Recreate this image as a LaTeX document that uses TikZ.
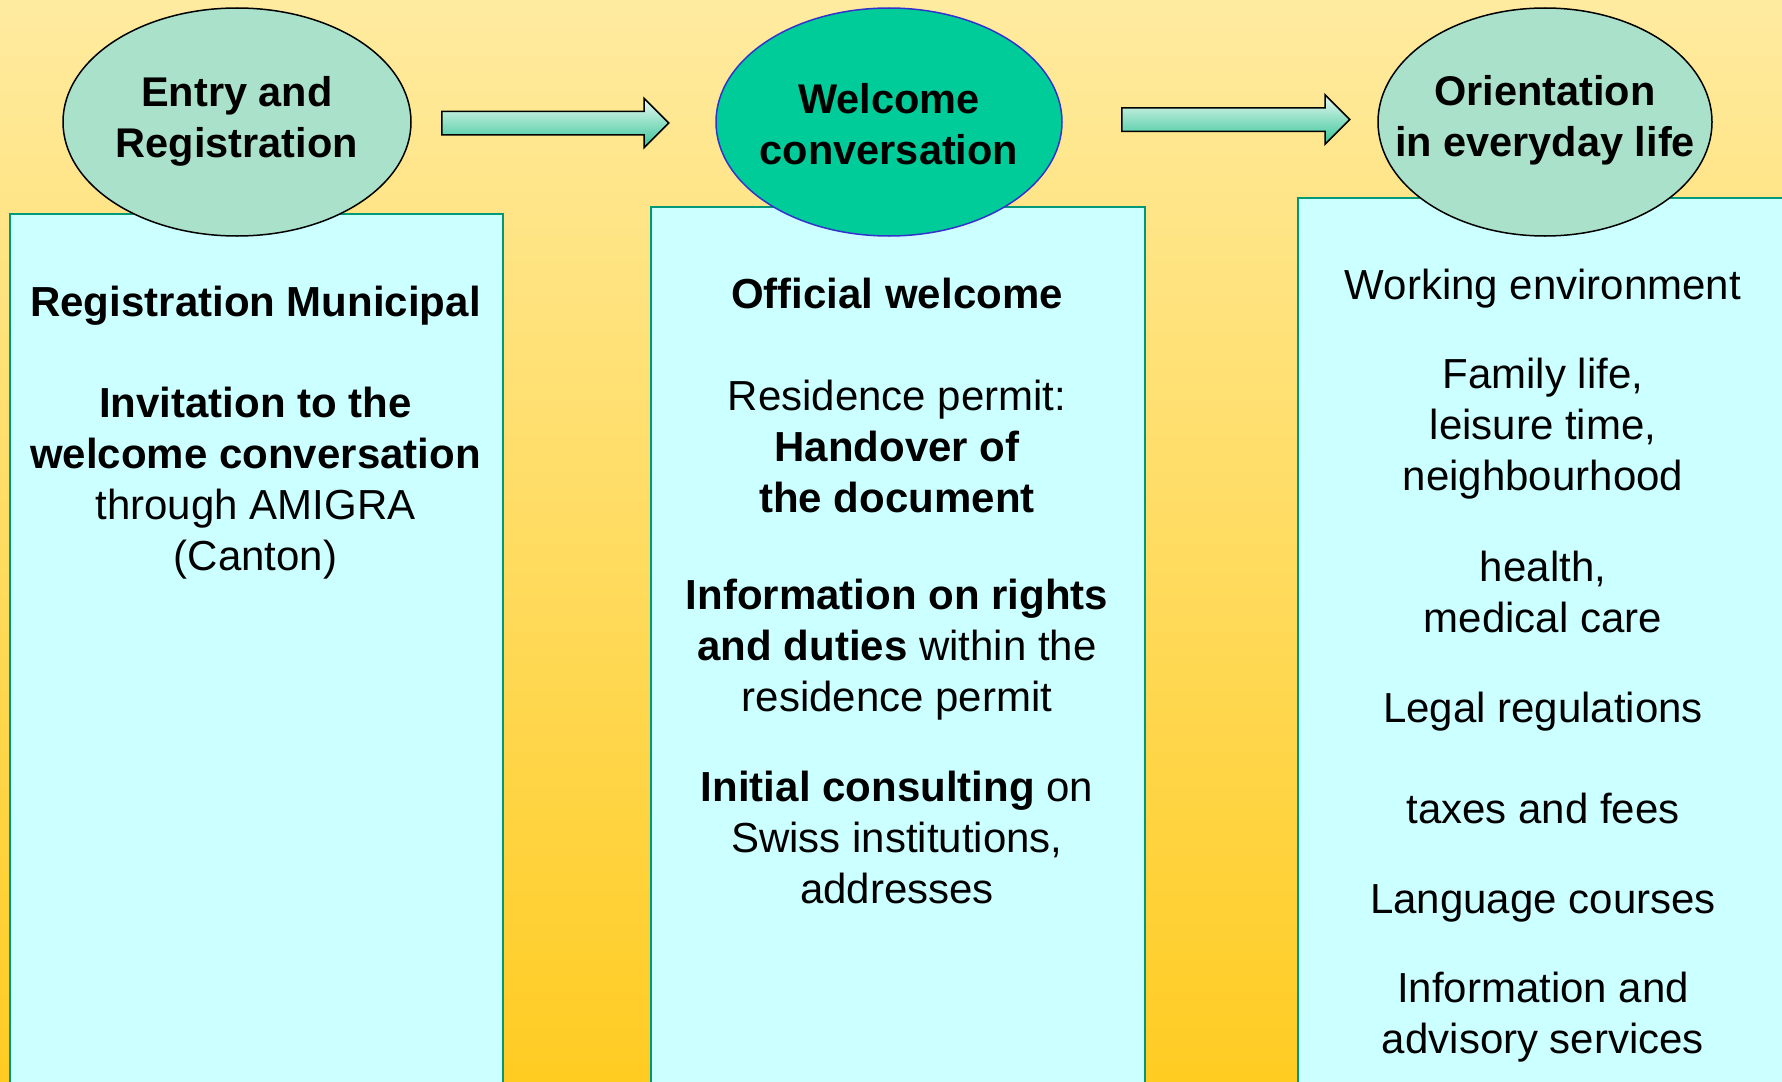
\documentclass[tikz,border=0pt]{standalone}
\usepackage{fontspec}
\setmainfont{Liberation Sans}
\usetikzlibrary{shapes.geometric, shapes.arrows}
\definecolor{sandtop}{RGB}{255,235,160}
\definecolor{sandbot}{RGB}{255,204,34}
\definecolor{panelfill}{RGB}{204,255,255}
\definecolor{paneledge}{RGB}{0,153,119}
\definecolor{mintfill}{RGB}{170,225,202}
\definecolor{jadefill}{RGB}{0,204,153}
\definecolor{jadeedge}{RGB}{51,51,204}
\definecolor{arrowtop}{RGB}{236,250,244}
\definecolor{arrowbot}{RGB}{51,196,150}

\begin{document}
\begin{tikzpicture}[x=1pt, y=1pt,
    panel/.style={draw=paneledge, fill=panelfill, line width=1.5pt, anchor=north west, minimum height=950pt},
    bubble/.style={ellipse, draw=black, fill=mintfill, line width=1.5pt, minimum height=228pt, inner sep=0pt},
    flow/.style={single arrow, draw=black, line width=1.5pt, top color=arrowtop, bottom color=arrowbot, inner xsep=0pt, inner ysep=11pt, single arrow head extend=13pt, anchor=tail},
    txt/.style={anchor=base, align=center, inner sep=0pt, font=\fontsize{42}{51}\selectfont},
    heavy/.style={txt, font=\fontsize{41.5}{51}\selectfont\bfseries}]
      \useasboundingbox (0,0) rectangle (1782,-1081);
      \clip (0,0) rectangle (1782,-1081);
      \fill[top color=sandtop, bottom color=sandbot] (0,0) rectangle (1782,-1081);

      \node[panel, minimum width=493pt] (regpanel) at (9,-213) {};
      \node[panel, minimum width=494pt] (welpanel) at (650,-206) {};
      \node[panel, minimum width=600pt] (oripanel) at (1297,-197) {};

      \node[bubble, minimum width=348pt] (entry) at (237,-122) {};
      \node[bubble, fill=jadefill, draw=jadeedge, minimum width=346pt] (welcome) at (889,-122) {};
      \node[bubble, minimum width=334pt] (orient) at (1545,-122) {};

      \node[flow, minimum height=227pt] (step1) at (441,-123) {};
      \node[flow, minimum height=228pt] (step2) at (1121,-119.5) {};

      \node[heavy] (entrytxt) at (237,-157) {Entry and\\Registration};
      \node[heavy] (welcometxt) at (889,-164) {Welcome\\conversation};
      \node[heavy] (orienttxt) at (1545,-156) {Orientation\\in everyday life};

      \node[txt, font=\fontsize{42}{51}\selectfont\bfseries] (regmun) at (255.5,-316) {Registration Municipal};
      \node[txt] (invite) at (255.5,-570) {\textbf{Invitation to the}\\\textbf{welcome conversation}\\through AMIGRA\\(Canton)};

      \node[txt, font=\fontsize{42}{51}\selectfont\bfseries] (official) at (897,-308) {Official welcome};
      \node[txt] (permit) at (897,-512) {Residence permit:\\\textbf{Handover of}\\\textbf{the document}};
      \node[txt] (rights) at (897,-711) {\textbf{Information on rights}\\\textbf{and duties} within the\\residence permit};
      \node[txt] (consult) at (897,-903) {\textbf{Initial consulting} on\\Swiss institutions,\\addresses};

      \node[txt] (work) at (1543,-299) {Working environment};
      \node[txt] (family) at (1543,-490) {Family life,\\leisure time,\\neighbourhood};
      \node[txt] (health) at (1543,-632) {health,\\medical care};
      \node[txt] (legal) at (1543,-722) {Legal regulations};
      \node[txt] (taxes) at (1543,-823) {taxes and fees};
      \node[txt] (courses) at (1543,-913) {Language courses};
      \node[txt] (advice) at (1543,-1053) {Information and\\advisory services};
    \end{tikzpicture}
\end{document}
